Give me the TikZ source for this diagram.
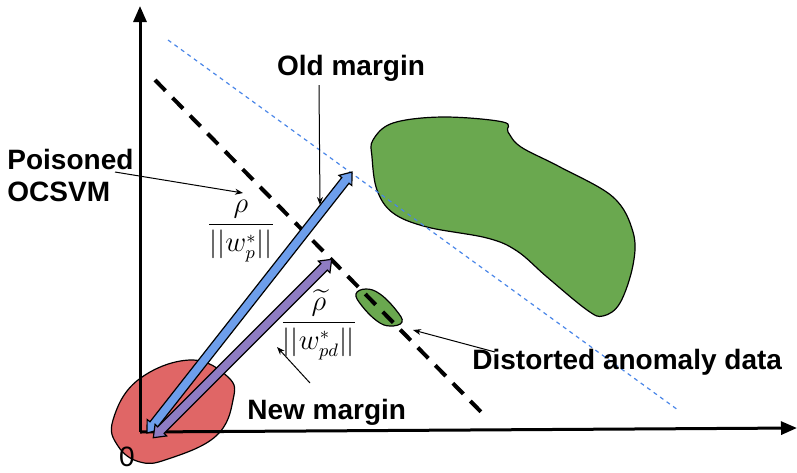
\documentclass[tikz,border=0pt]{standalone}
\usepackage{amsmath}
\usepackage{fontspec}
\newfontfamily\arialfont{Liberation Sans}
\usetikzlibrary{arrows.meta, positioning, calc, shapes.arrows}

\definecolor{redA}{HTML}{E06666}
\definecolor{greenA}{HTML}{6AA84F}
\definecolor{blueA}{HTML}{6D9EEB}
\definecolor{purpleA}{HTML}{8E7CC3}
\definecolor{dotblue}{HTML}{4A86E8}

\begin{document}
\begin{tikzpicture}[x=0.5pt, y=-0.5pt,
    lbl/.style={font=\arialfont\bfseries\fontsize{14}{16}\selectfont, inner sep=0pt},
    annot/.style={-{Stealth[length=4pt, width=3pt]}, line width=0.5pt},
    axis/.style={-{Triangle[length=8pt, width=6.5pt]}, line width=1.5pt},
    blob/.style={draw, line width=0.6pt, fill=#1},
    dblarr/.style={double arrow, draw, fill=#1, line width=0.6pt, inner sep=0pt, inner ysep=2pt,
        double arrow head extend=1.8pt, double arrow tip angle=75},
    frac/.style={font=\fontsize{13.5}{16}\selectfont, inner sep=0pt}
]
\useasboundingbox (0,0) rectangle (797,472);

% data regions
\draw[blob=redA] plot[smooth cycle, tension=0.7] coordinates {
    (113,420) (138,380) (190,360) (228,377) (233,400) (216,436) (168,459) (140,462) (118,446)};
\draw[blob=greenA] plot[smooth cycle, tension=0.6] coordinates {
    (373,140) (393,123) (443,117) (503,122) (508,132) (521,147) (560,167) (613,197) (633,232)
    (633,265) (620,303) (603,316) (587,310) (547,277) (517,251) (487,238) (427,227) (393,213)
    (377,190) (372,157)};
\draw[blob=greenA] plot[smooth cycle, tension=0.7] coordinates {
    (356,294) (366,289) (380,294) (396,310) (402,322) (390,326) (377,321) (362,306)};

% axes
\coordinate (o) at (140,432);
\coordinate (ytop) at (140,6);
\coordinate (xend) at (797,428);
\draw[axis] (o) -- (ytop);
\draw[axis] (o) -- (xend);
\node[font=\arialfont\fontsize{14}{16}\selectfont, inner sep=0pt] (zero) at (127,457) {0};

% hyperplanes
\coordinate (oldA) at (168,40);
\coordinate (oldB) at (678,410);
\coordinate (newA) at (155,80);
\coordinate (newB) at (487,418);
\draw[dotblue, line width=0.6pt, dash pattern=on 2pt off 2pt] (oldA) -- (oldB);
\draw[line width=2pt, dash pattern=on 7.5pt off 5pt] (newA) -- (newB);

% margin arrows
\coordinate (oldlo) at (147,433);
\coordinate (oldhi) at (352,172);
\coordinate (newlo) at (153,438);
\coordinate (newhi) at (332,259);
\path let \p1 = ($(oldhi)-(oldlo)$) in
    node[dblarr=blueA, rotate={atan2(\y1,\x1)}, minimum height={veclen(\x1,\y1)}]
    (oldarr) at ($(oldlo)!0.5!(oldhi)$) {};
\path let \p1 = ($(newhi)-(newlo)$) in
    node[dblarr=purpleA, rotate={atan2(\y1,\x1)}, minimum height={veclen(\x1,\y1)}]
    (newarr) at ($(newlo)!0.5!(newhi)$) {};

% margin values
\node[frac] (rhoold) at (241,231) {$\dfrac{\rho}{||w_p^*||}$};
\node[frac] (rhonew) at (319,325) {$\dfrac{\widetilde{\rho}}{||w_{pd}^*||}$};

% labels
\node[lbl] (oldlbl) at (351,68) {Old margin};
\node[lbl, align=left, anchor=west] (poisoned) at (7,175) {Poisoned\\OCSVM};
\node[lbl, anchor=west] (newlbl) at (247,412) {New margin};
\node[lbl, anchor=west] (distlbl) at (472,362) {Distorted anomaly data};

% pointers
\coordinate (oldfrom) at (319,85);
\coordinate (oldto) at (320,205);
\coordinate (poisfrom) at (115,172);
\coordinate (poisto) at (243,193);
\coordinate (newfrom) at (310,383);
\coordinate (newto) at (277,347);
\coordinate (distfrom) at (495,352);
\coordinate (distto) at (413,330);
\draw[annot] (oldfrom) -- (oldto);
\draw[annot] (poisfrom) -- (poisto);
\draw[annot] (newfrom) -- (newto);
\draw[annot] (distfrom) -- (distto);

\end{tikzpicture}
\end{document}
